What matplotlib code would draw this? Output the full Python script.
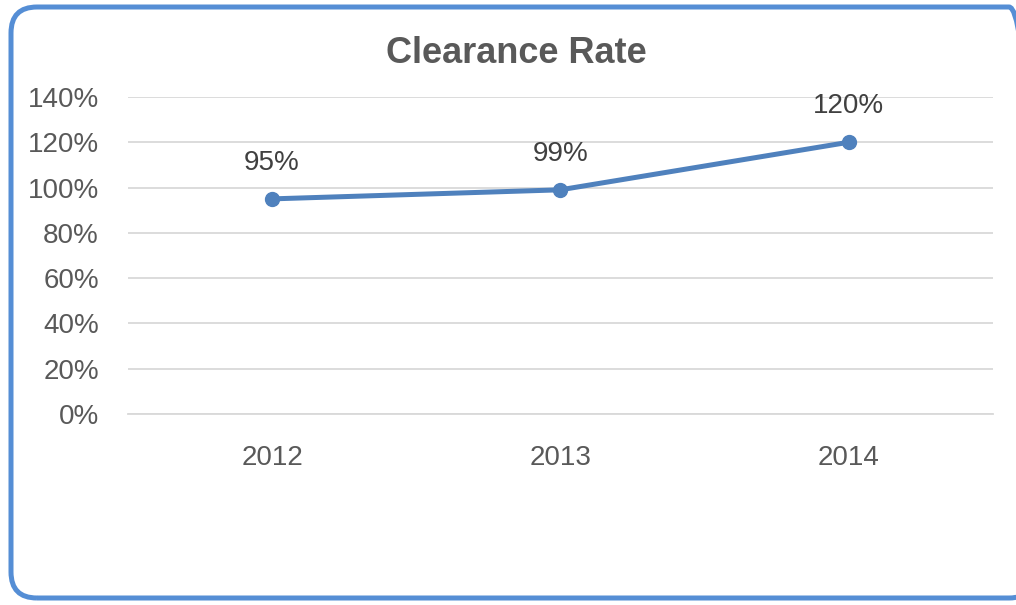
import matplotlib
matplotlib.use("Agg")
import matplotlib.pyplot as plt
from matplotlib.patches import FancyBboxPatch

years = ["2012", "2013", "2014"]
rates = [95, 99, 120]
y_ticks = [0, 20, 40, 60, 80, 100, 120, 140]

plt.rcParams['font.family'] = ['Liberation Sans', 'DejaVu Sans']

fig = plt.figure(figsize=(10.16, 6.05), dpi=100)
ax = fig.add_axes([0.126, 0.3157, 0.851, 0.524])

x = range(len(years))
ax.plot(x, rates, color="#4F81BD", lw=3.6, marker="o", markersize=10,
        solid_capstyle="round", zorder=3)
for i, v in enumerate(rates):
    ax.annotate(f"{v}%", (i, v), xytext=(0, 26), textcoords="offset points",
                ha="center", va="center", fontsize=20, color="#404040")

ax.set_xlim(-0.5, len(years) - 0.5)
ax.set_ylim(0, 140)
ax.set_yticks(y_ticks)
ax.set_yticklabels([f"{t}%" for t in y_ticks])
ax.set_xticks(list(x))
ax.set_xticklabels(years)
ax.tick_params(axis="y", length=0, pad=21, labelsize=20, labelcolor="#595959")
ax.tick_params(axis="x", length=0, pad=22, labelsize=20, labelcolor="#595959")
ax.grid(axis="y", color="#D9D9D9", lw=1.3)
ax.set_axisbelow(True)
for s in ["top", "right", "left"]:
    ax.spines[s].set_visible(False)
ax.spines["bottom"].set_color("#D9D9D9")
ax.spines["bottom"].set_linewidth(1.3)

fig.text(0.508, 0.912, "Clearance Rate", ha="center", va="center",
         fontsize=26, fontweight="bold", color="#595959")

# rounded chart border (pixel coords), right edge runs past the image
border = FancyBboxPatch((11, 7), 1024, 591, boxstyle="round,pad=0,rounding_size=26",
                        transform=None, fill=False, edgecolor="#558ED5", lw=3.6)
fig.patches.append(border)

fig.savefig("out.png", dpi=100)
